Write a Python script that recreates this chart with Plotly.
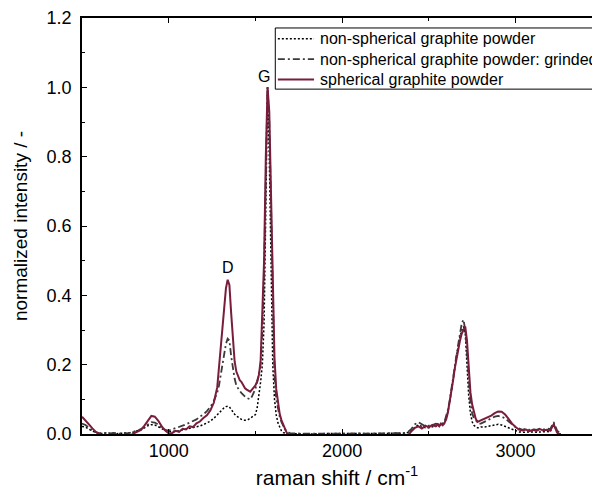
import plotly.graph_objects as go

# Raman shift sampling (cm^-1): coarse on flat baseline, finer over the D/G and 2D bands
shift = (list(range(500, 1281, 20)) + list(range(1290, 1701, 10)) +
         list(range(1720, 2541, 20)) + list(range(2550, 2801, 10)) +
         list(range(2820, 3261, 20)))

# normalized intensities, one value per sampled shift
spherical = [
    # 500-1280
    0.050, 0.040, 0.028, 0.016, 0.006, 0.001, -0.004, -0.004, -0.004, -0.004,
    -0.004, -0.004, -0.004, -0.004, -0.004, 0.002, 0.006, 0.012, 0.024, 0.040,
    0.052, 0.050, 0.038, 0.022, 0.010, 0.002, 0.003, 0.009, 0.006, 0.015,
    0.013, 0.022, 0.020, 0.031, 0.036, 0.046, 0.054, 0.068, 0.090, 0.135,
    # 1290-1700
    0.19, 0.24, 0.31, 0.37, 0.42, 0.445, 0.43, 0.35, 0.27, 0.21,
    0.18, 0.165, 0.155, 0.15, 0.14, 0.132, 0.128, 0.124, 0.122, 0.128,
    0.134, 0.14, 0.152, 0.17, 0.21, 0.35, 0.50, 0.80, 1.00, 0.93,
    0.68, 0.40, 0.22, 0.13, 0.085, 0.058, 0.040, 0.026, 0.014, 0.004,
    -0.004, -0.004,
    # 1720-2540
    -0.004, -0.004, -0.004, -0.004, -0.004, -0.004, -0.004, -0.004, -0.004, -0.004,
    -0.004, -0.004, -0.004, -0.004, -0.004, -0.004, -0.004, -0.004, -0.004, -0.004,
    -0.004, -0.004, -0.004, -0.004, -0.004, -0.004, -0.004, -0.004, -0.004, -0.004,
    -0.004, -0.004, -0.004, -0.004, 0.008, 0.018, 0.022, 0.016, 0.024, 0.019,
    0.026, 0.022,
    # 2550-2800
    0.028, 0.022, 0.030, 0.025, 0.032, 0.042, 0.062, 0.090, 0.120, 0.155,
    0.190, 0.220, 0.245, 0.270, 0.290, 0.300, 0.310, 0.270, 0.190, 0.120,
    0.085, 0.060, 0.045, 0.035, 0.037, 0.040,
    # 2820-3260
    0.044, 0.048, 0.053, 0.060, 0.065, 0.064, 0.056, 0.044, 0.030, 0.020,
    0.013, 0.010, 0.013, 0.008, 0.012, 0.009, 0.014, 0.010, 0.012, 0.010,
    0.028, 0.004, -0.004,
]

grinded = [
    # 500-1280
    0.030, 0.026, 0.018, 0.010, 0.005, 0.002, 0.004, 0.002, 0.001, 0.003,
    0.002, 0.001, 0.003, 0.002, 0.004, 0.006, 0.010, 0.014, 0.020, 0.028,
    0.034, 0.033, 0.027, 0.018, 0.012, 0.010, 0.013, 0.016, 0.021, 0.024,
    0.028, 0.032, 0.037, 0.042, 0.050, 0.056, 0.066, 0.078, 0.095, 0.120,
    # 1290-1700
    0.14, 0.17, 0.20, 0.235, 0.26, 0.275, 0.27, 0.225, 0.185, 0.16,
    0.14, 0.13, 0.124, 0.118, 0.112, 0.108, 0.104, 0.102, 0.100, 0.108,
    0.118, 0.13, 0.15, 0.17, 0.20, 0.30, 0.47, 0.80, 1.00, 0.90,
    0.62, 0.33, 0.17, 0.10, 0.07, 0.05, 0.035, 0.022, 0.014, 0.008,
    0.004, 0.002,
    # 1720-2540
    0.002, 0.001, 0.002, 0.001, 0.001, 0.002, 0.001, 0.001, 0.002, 0.001,
    0.001, 0.002, 0.001, 0.001, 0.002, 0.001, 0.001, 0.002, 0.001, 0.002,
    0.001, 0.001, 0.002, 0.001, 0.002, 0.001, 0.001, 0.002, 0.002, 0.001,
    0.002, 0.002, 0.003, 0.006, 0.015, 0.028, 0.034, 0.028, 0.022, 0.024,
    0.025, 0.030,
    # 2550-2800
    0.030, 0.028, 0.032, 0.030, 0.035, 0.050, 0.070, 0.095, 0.125, 0.160,
    0.195, 0.230, 0.260, 0.290, 0.320, 0.330, 0.300, 0.240, 0.150, 0.090,
    0.060, 0.045, 0.040, 0.035, 0.030, 0.030,
    # 2820-3260
    0.035, 0.040, 0.045, 0.050, 0.052, 0.050, 0.045, 0.035, 0.028, 0.020,
    0.015, 0.012, 0.015, 0.012, 0.014, 0.012, 0.015, 0.013, 0.016, 0.014,
    0.034, 0.010, 0.000,
]

non_spherical = [
    # 500-1280
    0.022, 0.020, 0.014, 0.008, 0.004, 0.002, 0.001, 0.003, 0.002, 0.002,
    0.001, 0.002, 0.002, 0.003, 0.004, 0.006, 0.009, 0.013, 0.018, 0.024,
    0.027, 0.026, 0.021, 0.015, 0.010, 0.007, 0.007, 0.008, 0.009, 0.012,
    0.014, 0.017, 0.019, 0.021, 0.023, 0.027, 0.031, 0.037, 0.045, 0.056,
    # 1290-1700
    0.062, 0.068, 0.072, 0.076, 0.079, 0.080, 0.078, 0.070, 0.063, 0.057,
    0.052, 0.048, 0.045, 0.042, 0.040, 0.039, 0.040, 0.042, 0.045, 0.048,
    0.052, 0.056, 0.075, 0.11, 0.15, 0.20, 0.32, 0.65, 1.00, 0.80,
    0.42, 0.20, 0.10, 0.055, 0.032, 0.018, 0.009, 0.004, 0.002, 0.001,
    0.000, 0.000,
    # 1720-2540
    0.001, 0.000, 0.001, 0.001, 0.000, 0.001, 0.000, 0.001, 0.001, 0.000,
    0.001, 0.000, 0.001, 0.001, 0.000, 0.001, 0.000, 0.001, 0.001, 0.000,
    0.001, 0.000, 0.001, 0.001, 0.000, 0.001, 0.000, 0.001, 0.001, 0.001,
    0.001, 0.002, 0.002, 0.004, 0.010, 0.020, 0.026, 0.022, 0.018, 0.018,
    0.020, 0.024,
    # 2550-2800
    0.024, 0.024, 0.026, 0.028, 0.030, 0.045, 0.065, 0.090, 0.120, 0.155,
    0.190, 0.225, 0.255, 0.280, 0.300, 0.310, 0.290, 0.200, 0.110, 0.060,
    0.035, 0.025, 0.020, 0.018, 0.018, 0.020,
    # 2820-3260
    0.020, 0.022, 0.024, 0.026, 0.028, 0.026, 0.022, 0.018, 0.012, 0.008,
    0.006, 0.005, 0.006, 0.005, 0.006, 0.005, 0.006, 0.005, 0.007, 0.006,
    0.030, 0.005, 0.000,
]

series_names = [
    "non-spherical graphite powder",
    "non-spherical graphite powder: grinded",
    "spherical graphite powder",
]
band_labels = ["D", "G"]
band_label_x = [1343, 1552]
band_label_y = [0.48, 1.03]

FONT = "Liberation Sans, Arial, Helvetica, sans-serif"
styles = [
    dict(color="#000000", width=1.5, dash="2px,2px"),
    dict(color="#3a3a3a", width=1.8, dash="7px,3px,2px,3px"),
    dict(color="#7a1d3c", width=2),
]

fig = go.Figure()
for name, values, style in zip(series_names,
                               [non_spherical, grinded, spherical], styles):
    fig.add_trace(go.Scatter(x=shift, y=values, name=name, mode="lines",
                             line=style, showlegend=False))

for text, bx, by in zip(band_labels, band_label_x, band_label_y):
    fig.add_annotation(x=bx, y=by, text=text, showarrow=False,
                       font=dict(size=16, color="#000000", family=FONT))

# legend box drawn in paper coordinates; it runs past the right edge of the figure
legend_left, legend_top, legend_bottom = 0.379, 0.976, 0.829
row_y = [0.950, 0.901, 0.852]
fig.add_shape(type="rect", xref="paper", yref="paper",
              x0=legend_left, x1=1.2, y0=legend_bottom, y1=legend_top,
              line=dict(color="#000000", width=1), fillcolor="white", layer="above")
for name, style, ry in zip(series_names, styles, row_y):
    fig.add_shape(type="line", xref="paper", yref="paper",
                  x0=0.384, x1=0.455, y0=ry, y1=ry, line=style, layer="above")
    fig.add_annotation(xref="paper", yref="paper", x=0.463, y=ry, text=name,
                       showarrow=False, xanchor="left", yanchor="middle",
                       font=dict(size=16, color="#000000", family=FONT))

fig.update_layout(
    width=592, height=492,
    margin=dict(l=82, r=0, t=18, b=58, autoexpand=False),
    paper_bgcolor="white", plot_bgcolor="white",
    font=dict(family=FONT, color="#000000"),
    showlegend=False,
)

fig.update_xaxes(
    range=[500, 3441],
    tickvals=[1000, 2000, 3000], ticks="inside", ticklen=5, tickwidth=1.2,
    tickcolor="#000000",
    minor=dict(dtick=500, tick0=500, ticks="inside", ticklen=3, tickcolor="#000000"),
    showline=True, linecolor="#000000", linewidth=1.5, mirror="ticks",
    showgrid=False, zeroline=False,
    tickfont=dict(size=18, family=FONT),
    title=dict(text="raman shift / cm<sup>-1</sup>", font=dict(size=21, family=FONT), standoff=10),
)
fig.update_yaxes(
    range=[0, 1.2], dtick=0.2, tick0=0, tickformat=".1f",
    ticks="inside", ticklen=5, tickwidth=1.2, tickcolor="#000000",
    minor=dict(dtick=0.1, tick0=0, ticks="inside", ticklen=3, tickcolor="#000000"),
    showline=True, linecolor="#000000", linewidth=1.5, mirror=False,
    showgrid=False, zeroline=False, ticklabelstandoff=5,
    tickfont=dict(size=18, family=FONT),
    title=dict(text="normalized intensity / -", font=dict(size=19, family=FONT), standoff=14),
)

fig.write_html("out.html")
